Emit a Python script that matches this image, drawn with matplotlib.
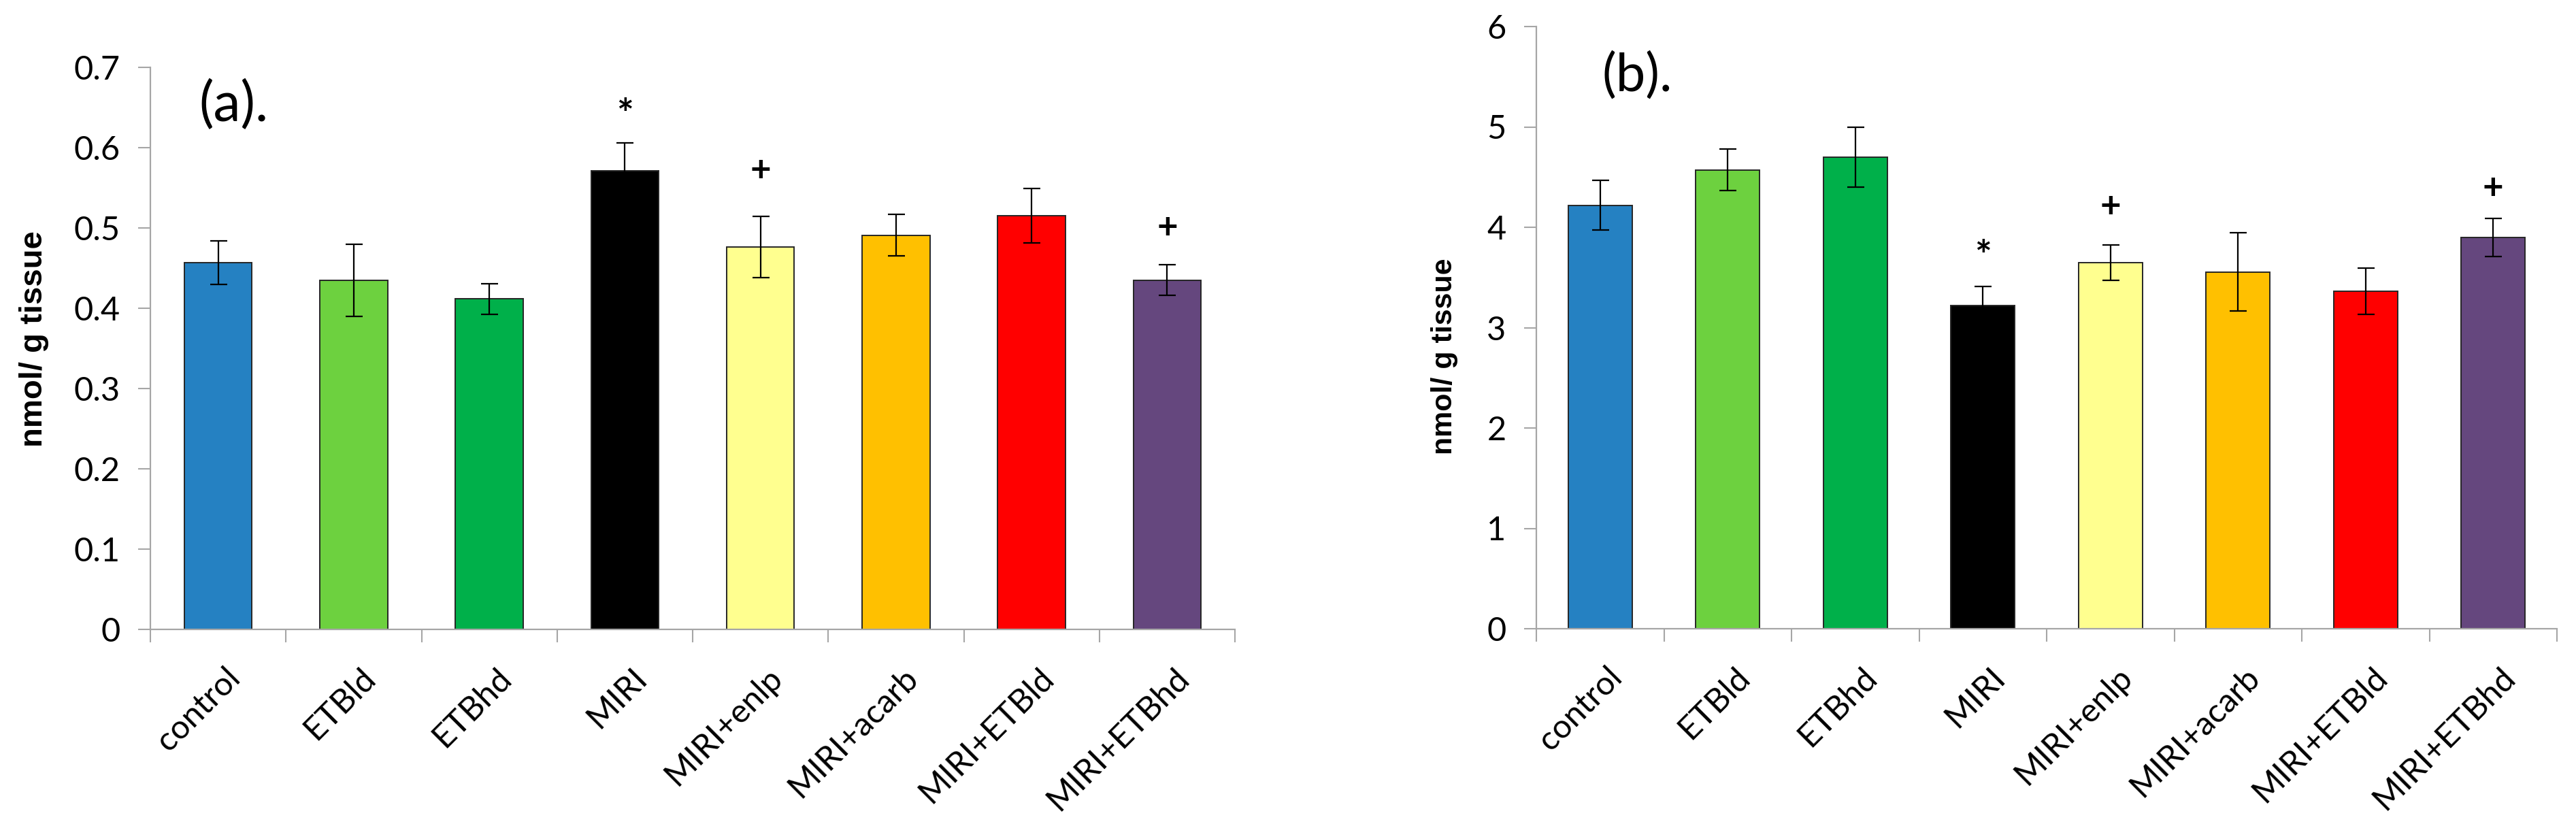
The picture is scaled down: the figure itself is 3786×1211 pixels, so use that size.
"""
Two-panel bar chart (nmol/g tissue) with SEM error bars and significance marks.
"""

import matplotlib.pyplot as plt
import matplotlib.transforms as mtransforms
import numpy as np

GROUPS = [
    "control",
    "ETBld",
    "ETBhd",
    "MIRI",
    "MIRI+enlp",
    "MIRI+acarb",
    "MIRI+ETBld",
    "MIRI+ETBhd",
]
BAR_COLORS = [
    "#2581C2",
    "#6DD13F",
    "#00B04A",
    "#000000",
    "#FFFF8F",
    "#FFC000",
    "#FF0000",
    "#65477E",
]

# panel (a)
MEAN_A = [0.457, 0.435, 0.4115, 0.571, 0.476, 0.491, 0.5155, 0.435]
SEM_A = [0.027, 0.045, 0.019, 0.035, 0.038, 0.026, 0.034, 0.019]
YTICKS_A = [0, 0.1, 0.2, 0.3, 0.4, 0.5, 0.6, 0.7]
SIG_A = [("MIRI", "*", 0.639), ("MIRI+enlp", "+", 0.571), ("MIRI+ETBhd", "+", 0.500)]

# panel (b)
MEAN_B = [4.22, 4.572, 4.70, 3.223, 3.648, 3.554, 3.365, 3.90]
SEM_B = [0.245, 0.205, 0.30, 0.185, 0.176, 0.39, 0.23, 0.19]
YTICKS_B = [0, 1, 2, 3, 4, 5, 6]
SIG_B = [("MIRI", "*", 3.70), ("MIRI+enlp", "+", 4.20), ("MIRI+ETBhd", "+", 4.38)]

YLABEL = "nmol/ g tissue"
AXIS_GRAY = "#A6A6A6"
TEXT_FONT = ["Lato", "DejaVu Sans"]
LABEL_FONT = ["Liberation Sans", "DejaVu Sans"]

W, H, DPI = 3786, 1211, 100


def draw_panel(ax, means, sems, yticks, sig, tick_fmt):
    x = np.arange(len(GROUPS))
    ax.bar(
        x,
        means,
        width=0.5,
        color=BAR_COLORS,
        edgecolor="#262626",
        linewidth=1.4,
        zorder=2,
    )
    ax.errorbar(
        x,
        means,
        yerr=sems,
        fmt="none",
        ecolor="black",
        elinewidth=1.6,
        capsize=9,
        capthick=1.6,
        zorder=3,
    )

    for name, sym, level in sig:
        i = GROUPS.index(name)
        ax.text(
            i,
            level,
            sym,
            ha="center",
            va="center",
            fontsize=38 if sym == "+" else 42,
            fontweight="bold",
            family=TEXT_FONT,
            zorder=4,
        )

    ax.set_xlim(-0.5, len(GROUPS) - 0.5)
    ax.set_ylim(yticks[0], yticks[-1])

    # tick marks between categories, labels at the centres
    ax.set_xticks(np.arange(len(GROUPS) + 1) - 0.5)
    ax.set_xticklabels([])
    ax.set_xticks(x, minor=True)
    ax.set_xticklabels(GROUPS, minor=True)
    ax.tick_params(axis="x", which="major", direction="out", length=14,
                   width=1.5, color=AXIS_GRAY)
    ax.tick_params(axis="x", which="minor", length=0, pad=46, labelsize=35)
    offset = mtransforms.ScaledTranslation(18 / 72, 0, ax.figure.dpi_scale_trans)
    for lab in ax.get_xticklabels(minor=True):
        lab.set_rotation(45)
        lab.set_ha("right")
        lab.set_va("center")
        lab.set_rotation_mode("anchor")
        lab.set_family(TEXT_FONT)
        lab.set_transform(lab.get_transform() + offset)

    ax.set_yticks(yticks)
    ax.set_yticklabels([tick_fmt(v) for v in yticks], family=TEXT_FONT)
    ax.tick_params(axis="y", direction="out", length=13, width=1.5,
                   color=AXIS_GRAY, labelsize=35, pad=19)

    for side in ("top", "right"):
        ax.spines[side].set_visible(False)
    for side in ("left", "bottom"):
        ax.spines[side].set_color(AXIS_GRAY)
        ax.spines[side].set_linewidth(1.6)


fig = plt.figure(figsize=(W / DPI, H / DPI), dpi=DPI)

# axes boxes in pixel terms of the reference picture
ax_a = fig.add_axes([221 / W, (H - 925) / H, 1594 / W, 826 / H])
ax_b = fig.add_axes([2258 / W, (H - 924) / H, 1500 / W, 885 / H])

draw_panel(ax_a, MEAN_A, SEM_A, YTICKS_A, SIG_A,
           lambda v: "0" if v == 0 else f"{v:.1f}")
draw_panel(ax_b, MEAN_B, SEM_B, YTICKS_B, SIG_B, lambda v: f"{v:g}")

fig.text(50 / W, 1 - 498 / H, YLABEL, rotation=90, ha="center", va="center",
         fontsize=34, fontweight="bold", family=LABEL_FONT)
fig.text(2123 / W, 1 - 524 / H, YLABEL, rotation=90, ha="center", va="center",
         fontsize=31, fontweight="bold", family=LABEL_FONT)

fig.text(292 / W, 1 - 154 / H, "(a).", ha="left", va="center",
         fontsize=58, family=TEXT_FONT)
fig.text(2355 / W, 1 - 112 / H, "(b).", ha="left", va="center",
         fontsize=56, family=TEXT_FONT)

fig.savefig("out.png", dpi=DPI, facecolor="white")
